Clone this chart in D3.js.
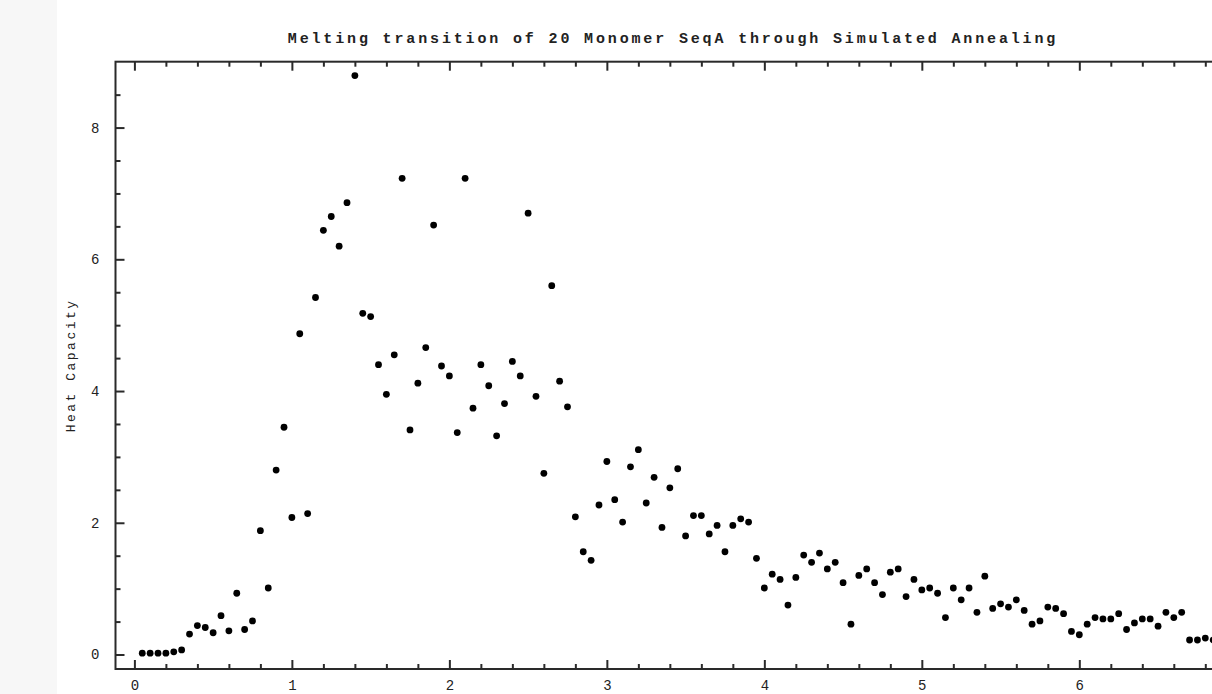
<!DOCTYPE html>
<html>
<head>
<meta charset="utf-8">
<script src="https://cdn.jsdelivr.net/npm/d3@7"></script>
<style>
  html, body { margin: 0; padding: 0; background: #ffffff; }
  svg { display: block; }
</style>
</head>
<body>
<svg id="chart" width="1212" height="694"></svg>
<script>
// ---- data ----
const titleText = "Melting transition of 20 Monomer SeqA through Simulated Annealing";
const yLabelText = "Heat Capacity";

const temperatures = [
  0.05,0.10,0.15,0.20,0.25,0.30,0.35,0.40,0.45,0.50,0.55,0.60,0.65,0.70,0.75,0.80,0.85,0.90,0.95,1.00,
  1.05,1.10,1.15,1.20,1.25,1.30,1.35,1.40,1.45,1.50,1.55,1.60,1.65,1.70,1.75,1.80,1.85,1.90,1.95,2.00,
  2.05,2.10,2.15,2.20,2.25,2.30,2.35,2.40,2.45,2.50,2.55,2.60,2.65,2.70,2.75,2.80,2.85,2.90,2.95,3.00,
  3.05,3.10,3.15,3.20,3.25,3.30,3.35,3.40,3.45,3.50,3.55,3.60,3.65,3.70,3.75,3.80,3.85,3.90,3.95,4.00,
  4.05,4.10,4.15,4.20,4.25,4.30,4.35,4.40,4.45,4.50,4.55,4.60,4.65,4.70,4.75,4.80,4.85,4.90,4.95,5.00,
  5.05,5.10,5.15,5.20,5.25,5.30,5.35,5.40,5.45,5.50,5.55,5.60,5.65,5.70,5.75,5.80,5.85,5.90,5.95,6.00,
  6.05,6.10,6.15,6.20,6.25,6.30,6.35,6.40,6.45,6.50,6.55,6.60,6.65,6.70,6.75,6.80,6.85
];

const heatCapacity = [
  0.02,0.02,0.02,0.02,0.04,0.07,0.31,0.44,0.41,0.33,0.59,0.36,0.93,0.38,0.51,1.88,1.01,2.80,3.45,2.08,
  4.87,2.14,5.42,6.44,6.65,6.20,6.86,8.79,5.18,5.13,4.40,3.95,4.55,7.23,3.41,4.12,4.66,6.52,4.38,4.23,
  3.37,7.23,3.74,4.40,4.08,3.32,3.81,4.45,4.23,6.70,3.92,2.75,5.60,4.15,3.76,2.09,1.56,1.43,2.27,2.93,
  2.35,2.01,2.85,3.11,2.30,2.69,1.93,2.53,2.82,1.80,2.11,2.11,1.83,1.96,1.56,1.96,2.06,2.01,1.46,1.01,
  1.22,1.14,0.75,1.17,1.51,1.40,1.54,1.30,1.40,1.09,0.46,1.20,1.30,1.09,0.91,1.25,1.30,0.88,1.14,0.98,
  1.01,0.93,0.56,1.01,0.83,1.01,0.64,1.19,0.70,0.77,0.72,0.83,0.67,0.46,0.51,0.72,0.70,0.62,0.35,0.30,
  0.46,0.56,0.54,0.54,0.62,0.38,0.48,0.54,0.54,0.43,0.64,0.56,0.64,0.22,0.22,0.25,0.22
];

const xMajorTicks = [0, 1, 2, 3, 4, 5, 6];
const xMinorTicks = [0.2,0.4,0.6,0.8,1.2,1.4,1.6,1.8,2.2,2.4,2.6,2.8,3.2,3.4,3.6,3.8,
                     4.2,4.4,4.6,4.8,5.2,5.4,5.6,5.8,6.2,6.4,6.6,6.8];
const yMajorTicks = [0, 2, 4, 6, 8];
const yMinorTicks = [0.5,1,1.5,2.5,3,3.5,4.5,5,5.5,6.5,7,7.5,8.5];

// ---- layout ----
const W = 1212, H = 694;
const plot = { left: 115.5, top: 61.7, right: 1230.5, bottom: 669 };

const svg = d3.select("#chart");

svg.append("rect").attr("x", 0).attr("y", 0).attr("width", W).attr("height", H).attr("fill", "#ffffff");
svg.append("rect").attr("x", 0).attr("y", 0).attr("width", 57).attr("height", H).attr("fill", "#f7f7f7");

const x = d3.scaleLinear().domain([-0.12, 6.96]).range([plot.left, plot.right]);
const y = d3.scaleLinear().domain([-0.22, 9.0]).range([plot.bottom, plot.top]);

const fontFam = "'Liberation Mono', 'DejaVu Sans Mono', monospace";
const axisColor = "#2a2a2a";

function styleAxis(g) {
  g.select(".domain").remove();
  g.selectAll(".tick line").attr("stroke", axisColor).attr("stroke-width", 2);
  g.selectAll(".tick text").attr("fill", "#222").attr("font-family", fontFam).attr("font-size", 14);
}

// bottom axis
svg.append("g").attr("transform", `translate(0,${plot.bottom})`)
  .call(d3.axisBottom(x).tickValues(xMinorTicks).tickSize(-5).tickFormat(""))
  .call(styleAxis);
svg.append("g").attr("transform", `translate(0,${plot.bottom})`)
  .call(d3.axisBottom(x).tickValues(xMajorTicks).tickSize(-9).tickPadding(11).tickFormat(d3.format("d")))
  .call(styleAxis);

// top axis
svg.append("g").attr("transform", `translate(0,${plot.top})`)
  .call(d3.axisTop(x).tickValues(xMinorTicks).tickSize(-5).tickFormat(""))
  .call(styleAxis);
svg.append("g").attr("transform", `translate(0,${plot.top})`)
  .call(d3.axisTop(x).tickValues(xMajorTicks).tickSize(-9).tickFormat(""))
  .call(styleAxis);

// left axis
svg.append("g").attr("transform", `translate(${plot.left},0)`)
  .call(d3.axisLeft(y).tickValues(yMinorTicks).tickSize(-5).tickFormat(""))
  .call(styleAxis);
svg.append("g").attr("transform", `translate(${plot.left},0)`)
  .call(d3.axisLeft(y).tickValues(yMajorTicks).tickSize(-9).tickPadding(16).tickFormat(d3.format("d")))
  .call(styleAxis);

// frame
svg.append("rect")
  .attr("x", plot.left).attr("y", plot.top)
  .attr("width", plot.right - plot.left).attr("height", plot.bottom - plot.top)
  .attr("fill", "none").attr("stroke", axisColor).attr("stroke-width", 2);

// points
const pts = temperatures.map((t, i) => ({ t, c: heatCapacity[i] }));
svg.append("g").selectAll("circle").data(pts).join("circle")
  .attr("cx", d => x(d.t))
  .attr("cy", d => y(d.c))
  .attr("r", 3.4)
  .attr("fill", "#000");

// title
svg.append("text")
  .attr("x", (plot.left + plot.right) / 2)
  .attr("y", 43)
  .attr("text-anchor", "middle")
  .attr("font-family", fontFam)
  .attr("font-size", 15)
  .attr("font-weight", "bold")
  .attr("letter-spacing", 2.85)
  .attr("fill", "#222")
  .text(titleText);

// y label
svg.append("text")
  .attr("transform", `translate(75,${(plot.top + plot.bottom) / 2}) rotate(-90)`)
  .attr("text-anchor", "middle")
  .attr("font-family", fontFam)
  .attr("font-size", 13)
  .attr("letter-spacing", 2.5)
  .attr("fill", "#222")
  .text(yLabelText);
</script>
</body>
</html>
